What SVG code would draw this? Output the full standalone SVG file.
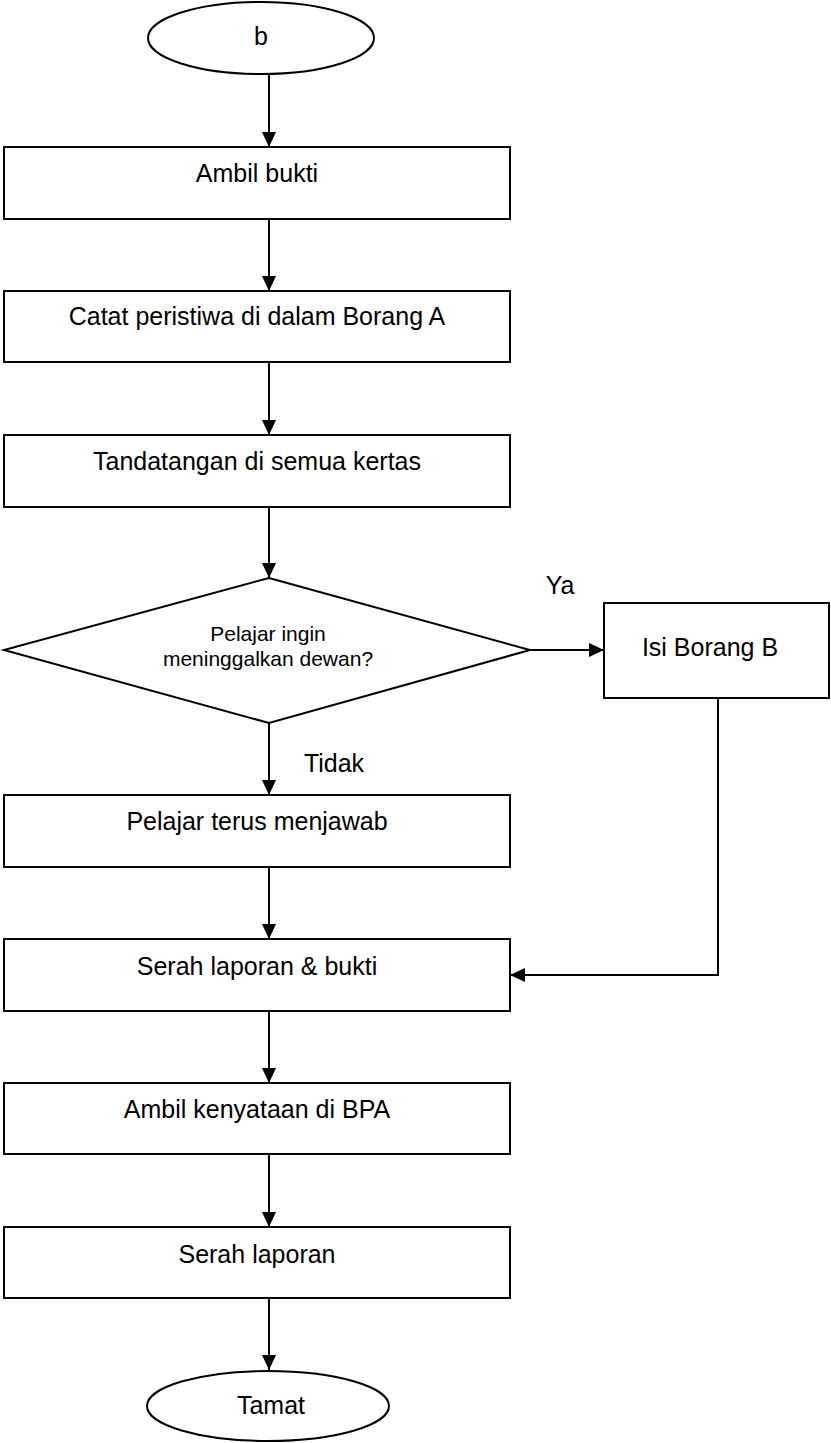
<svg xmlns="http://www.w3.org/2000/svg" width="831" height="1443" viewBox="0 0 831 1443">
<style>
.s{fill:#fff;stroke:#000;stroke-width:2}
.t{font-family:"Liberation Sans",Arial,sans-serif;font-size:25px;fill:#000;text-anchor:middle}
.d{font-family:"Liberation Sans",Arial,sans-serif;font-size:21px;fill:#000;text-anchor:middle}
.c{fill:none;stroke:#000;stroke-width:2}
</style>
<defs>
<marker id="a" viewBox="0 0 15 14" refX="15" refY="7" markerWidth="15" markerHeight="14" markerUnits="userSpaceOnUse" orient="auto"><path d="M0,0L15,7L0,14z" fill="#000"/></marker>
</defs>
<rect width="831" height="1443" fill="#fff"/>
<g id="connectors">
<path class="c" d="M269,74V147" marker-end="url(#a)"/>
<path class="c" d="M269,219V291" marker-end="url(#a)"/>
<path class="c" d="M269,362V435" marker-end="url(#a)"/>
<path class="c" d="M269,507V578" marker-end="url(#a)"/>
<path class="c" d="M530,650H604" marker-end="url(#a)"/>
<path class="c" d="M269,723V795" marker-end="url(#a)"/>
<path class="c" d="M269,867V939" marker-end="url(#a)"/>
<path class="c" d="M718,698V975H510" marker-end="url(#a)"/>
<path class="c" d="M269,1011V1083" marker-end="url(#a)"/>
<path class="c" d="M269,1154V1227" marker-end="url(#a)"/>
<path class="c" d="M269,1298V1370" marker-end="url(#a)"/>
<text class="t" x="560" y="594">Ya</text>
<text class="t" x="334" y="772">Tidak</text>
</g>
<g id="start"><ellipse class="s" cx="261" cy="38" rx="113" ry="36"/><text class="t" x="261" y="45">b</text></g>
<g id="n1"><rect class="s" x="4" y="147" width="506" height="72"/><text class="t" x="257" y="182">Ambil bukti</text></g>
<g id="n2"><rect class="s" x="4" y="291" width="506" height="71"/><text class="t" x="257" y="325">Catat peristiwa di dalam Borang A</text></g>
<g id="n3"><rect class="s" x="4" y="435" width="506" height="72"/><text class="t" x="257" y="470">Tandatangan di semua kertas</text></g>
<g id="dec"><polygon class="s" points="269,578 530,650 269,723 4,650"/><text class="d" x="268" y="641">Pelajar ingin</text><text class="d" x="268" y="666">meninggalkan dewan?</text></g>
<g id="n4"><rect class="s" x="604" y="603" width="225" height="95"/><text class="t" x="710" y="656">Isi Borang B</text></g>
<g id="n5"><rect class="s" x="4" y="795" width="506" height="72"/><text class="t" x="257" y="830">Pelajar terus menjawab</text></g>
<g id="n6"><rect class="s" x="4" y="939" width="506" height="72"/><text class="t" x="257" y="975">Serah laporan &amp; bukti</text></g>
<g id="n7"><rect class="s" x="4" y="1083" width="506" height="71"/><text class="t" x="257" y="1118">Ambil kenyataan di BPA</text></g>
<g id="n8"><rect class="s" x="4" y="1227" width="506" height="71"/><text class="t" x="257" y="1263">Serah laporan</text></g>
<g id="end"><ellipse class="s" cx="268" cy="1406" rx="121" ry="35"/><text class="t" x="271" y="1414">Tamat</text></g>
</svg>
